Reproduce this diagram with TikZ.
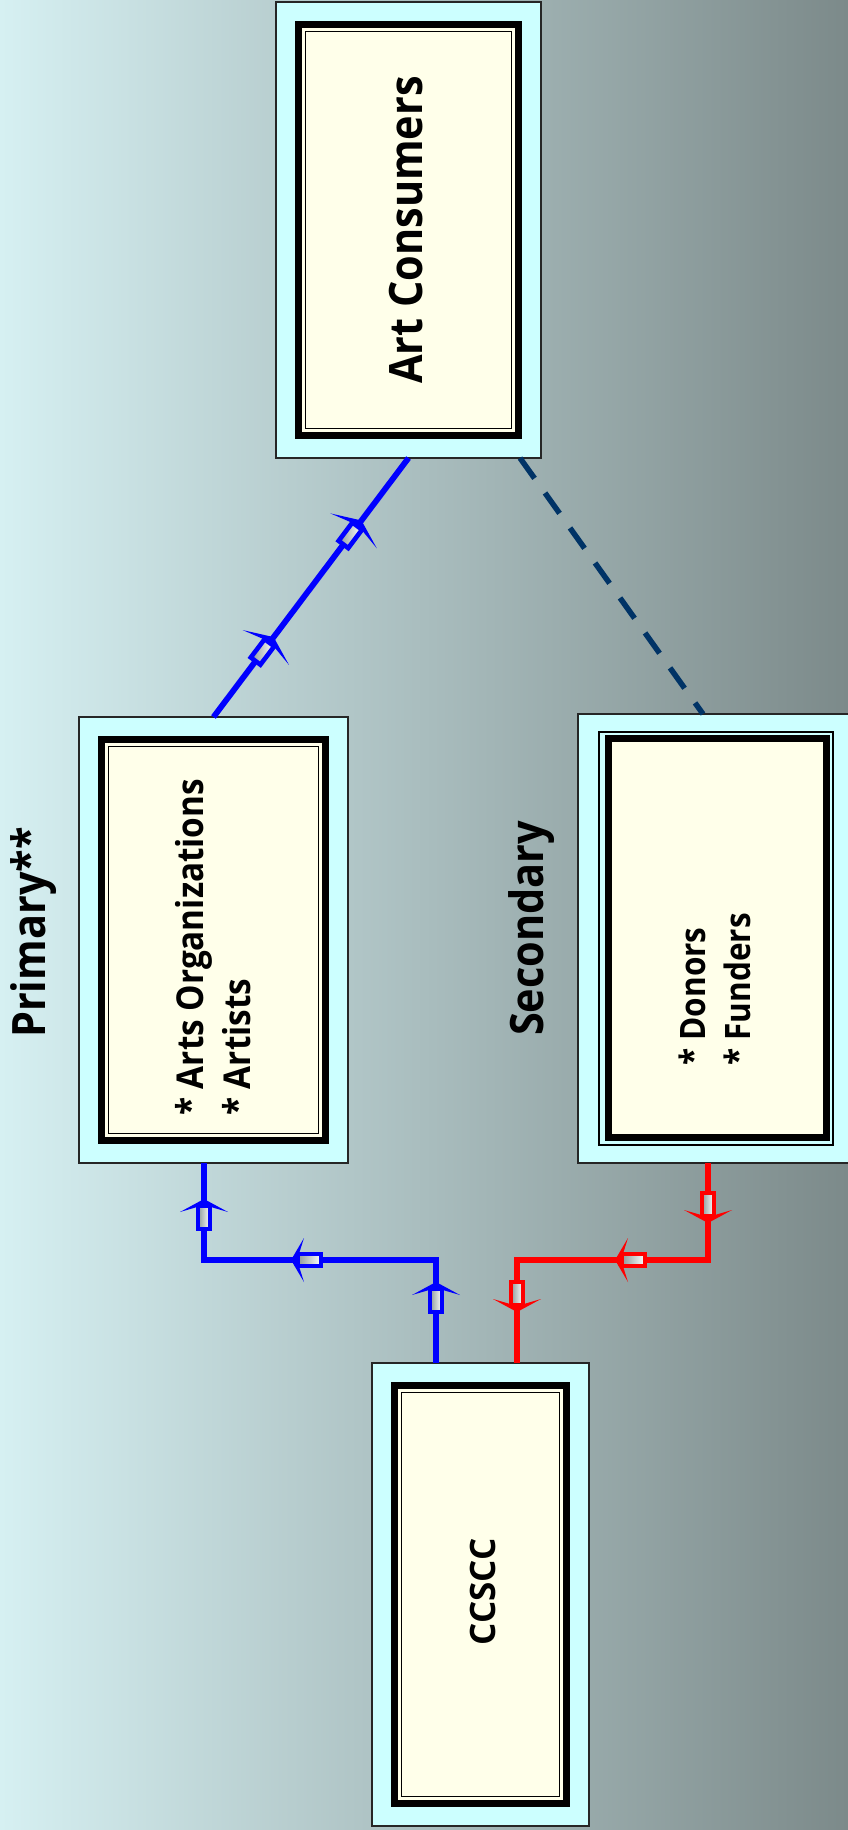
\documentclass[tikz,border=0pt]{standalone}
\usepackage{fontspec}
\setmainfont{Open Sans}[FakeStretch=0.9]
\newfontfamily\plainsans{Open Sans}
\usetikzlibrary{decorations.markings}

\definecolor{bgleft}{HTML}{D6F0F2}
\definecolor{bgright}{HTML}{7C8A8A}
\definecolor{boxcyan}{HTML}{CCFFFF}
\definecolor{cream}{HTML}{FFFFEA}
\definecolor{flowblue}{HTML}{0000FF}
\definecolor{flowred}{HTML}{FF0000}
\definecolor{linknavy}{HTML}{003366}
\definecolor{shaftgray}{HTML}{8E9A9A}

\tikzset{
  % outer cyan panel
  panel/.style={draw=black!85, line width=1.5pt, fill=boxcyan, inner sep=0pt, outer sep=0pt},
  % thick black frame with a thin rule inside it
  framed/.style={path picture={
      \draw[draw=black, line width=7.5pt, fill=cream]
        ([shift={(22.5,22.5)}]path picture bounding box.north west) rectangle
        ([shift={(-22.5,-22.5)}]path picture bounding box.south east);
      \draw[draw=black, line width=1.3pt]
        ([shift={(29.5,29.5)}]path picture bounding box.north west) rectangle
        ([shift={(-29.5,-29.5)}]path picture bounding box.south east);
  }},
  % thin rule outside a thick black frame
  framedout/.style={path picture={
      \draw[draw=black, line width=1.3pt]
        ([shift={(21,18)}]path picture bounding box.north west) rectangle
        ([shift={(-21,-18)}]path picture bounding box.south east);
      \draw[draw=black, line width=7.5pt, fill=cream]
        ([shift={(30.5,24.5)}]path picture bounding box.north west) rectangle
        ([shift={(-27.5,-25.5)}]path picture bounding box.south east);
  }},
  bigfont/.style={font=\fontsize{46}{50}\selectfont\bfseries, rotate=90, inner sep=0pt},
  midfont/.style={font=\fontsize{37}{44}\selectfont\bfseries, rotate=90, inner sep=0pt},
  smallfont/.style={font=\fontsize{35}{42}\selectfont\bfseries, rotate=90, inner sep=0pt},
  flowline/.style={draw=#1, line width=5.8pt},
  % block arrow: hollow shaft with a shaded core and a swept head, tip at the origin
  pics/flowmark/.style 2 args={code={
      \draw[draw=#2, line width=4.6pt, left color=shaftgray, right color=white]
        (-30,-6) rectangle (-7,6);
      \fill[#2] (0,0) -- (-13,#1) -- (-6,0) -- (-13,-#1) -- cycle;
  }},
}

\begin{document}
\begin{tikzpicture}[x=1pt, y=-1pt]
  \useasboundingbox (0,0) rectangle (848,1830);
  \clip (0,0) rectangle (848,1830);
  \shade[left color=bgleft, right color=bgright] (0,0) rectangle (848,1830);

  % panels
  \node[panel, framed, minimum width=265pt, minimum height=456pt] (ac) at (408.5,230) {};
  \node[panel, framed, minimum width=269pt, minimum height=446pt] (pri) at (213.5,940) {};
  \node[panel, framedout, minimum width=276pt, minimum height=449pt] (sec) at (716,938.5) {};
  \node[panel, framed, minimum width=217pt, minimum height=463pt] (cc) at (480.5,1594.5) {};

  % panel texts
  \node[bigfont] (actext) at (406.5,230) {Art Consumers};
  \node[midfont, anchor=base west] (pri1) at (203,1116) {* Arts Organizations};
  \node[midfont, anchor=base west] (pri2) at (250,1116) {* Artists};
  \node[smallfont, anchor=base west] (sec1) at (705,1066) {* Donors};
  \node[smallfont, anchor=base west] (sec2) at (750,1066) {* Funders};
  \node[smallfont, font=\fontsize{35}{42}\plainsans\bfseries] (cctext) at (483,1592) {CCSCC};

  % group labels
  \node[bigfont, anchor=base west] (lblpri) at (45,1038) {Primary**};
  \node[bigfont, anchor=base west] (lblsec) at (543,1036) {Secondary};

  % bends of the elbow connectors
  \coordinate (bj1) at (436,1260);
  \coordinate (bj2) at (204,1260);
  \coordinate (rj1) at (708,1260);
  \coordinate (rj2) at (517,1260);

  % primary -> art consumers
  \draw[flowline=flowblue, postaction={decorate}, decoration={markings,
      mark=at position 100pt with {\pic[transform shape]{flowmark={29}{flowblue}};},
      mark=at position 246pt with {\pic[transform shape]{flowmark={29}{flowblue}};}}]
    (pri.north) -- (ac.south);

  % secondary - - art consumers
  \draw[linknavy, line width=5.5pt, dash pattern=on 25pt off 18pt]
    ([shift={(-21,0)}]ac.south east) -- ([shift={(125,0)}]sec.north west);

  % ccscc -> primary
  \draw[flowline=flowblue, postaction={decorate}, decoration={markings,
      mark=at position 81pt with {\pic[transform shape]{flowmark={24}{flowblue}};},
      mark=at position 248pt with {\pic[transform shape]{flowmark={22}{flowblue}};},
      mark=at position 396pt with {\pic[transform shape]{flowmark={24}{flowblue}};}}]
    ([shift={(-44.5,0)}]cc.north) -- (bj1) -- (bj2) -- ([shift={(-9.5,0)}]pri.south);

  % secondary -> ccscc
  \draw[flowline=flowred, postaction={decorate}, decoration={markings,
      mark=at position 60pt with {\pic[transform shape]{flowmark={24}{flowred}};},
      mark=at position 190pt with {\pic[transform shape]{flowmark={22}{flowred}};},
      mark=at position 340pt with {\pic[transform shape]{flowmark={24}{flowred}};}}]
    ([shift={(-8,0)}]sec.south) -- (rj1) -- (rj2) -- ([shift={(36.5,0)}]cc.north);
\end{tikzpicture}
\end{document}
